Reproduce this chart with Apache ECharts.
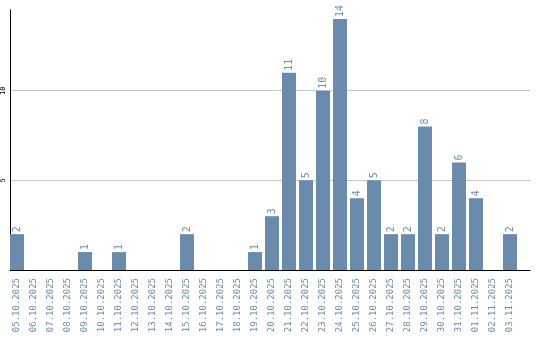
<!DOCTYPE html>
<html>
<head>
<meta charset="utf-8">
<script src="https://cdn.jsdelivr.net/npm/echarts@6/dist/echarts.min.js"></script>
<style>html,body{margin:0;padding:0;background:#fff}#c{width:540px;height:340px}</style>
</head>
<body>
<div id="c"></div>
<script>
var categories = ['05.10.2025','06.10.2025','07.10.2025','08.10.2025','09.10.2025','10.10.2025','11.10.2025','12.10.2025','13.10.2025','14.10.2025','15.10.2025','16.10.2025','17.10.2025','18.10.2025','19.10.2025','20.10.2025','21.10.2025','22.10.2025','23.10.2025','24.10.2025','25.10.2025','26.10.2025','27.10.2025','28.10.2025','29.10.2025','30.10.2025','31.10.2025','01.11.2025','02.11.2025','03.11.2025'];
var values = [2,0,0,0,1,0,1,0,0,0,2,0,0,0,1,3,11,5,10,14,4,5,2,2,8,2,6,4,0,2];
var yMax = 14.5;
var yInterval = 5;

var chart = echarts.init(document.getElementById('c'), null, {renderer:'canvas'});
var mono = 'DejaVu Sans Mono, monospace';
chart.setOption({
  animation: false,
  grid: [
    {left: 8.5, top: 10, width: 510, height: 260},
    {left: 10, top: 10, width: 520, height: 260}
  ],
  xAxis: [
    {type: 'category', gridIndex: 0, data: categories, boundaryGap: true,
     axisLine: {show: false}, axisTick: {show: false},
     axisLabel: {rotate: 90, interval: 0, margin: 8, color: '#6f8eab', fontFamily: mono, fontSize: 9}},
    {type: 'value', gridIndex: 1, min: 0, max: 1,
     axisLine: {show: true, lineStyle: {color: '#000', width: 1}},
     axisTick: {show: false}, axisLabel: {show: false}, splitLine: {show: false}}
  ],
  yAxis: [
    {type: 'value', gridIndex: 0, min: 0, max: yMax, show: false, splitLine: {show: false}},
    {type: 'value', gridIndex: 1, min: 0, max: yMax, interval: yInterval,
     axisLine: {show: true, lineStyle: {color: '#000', width: 1}},
     axisTick: {show: false},
     axisLabel: {rotate: 90, margin: 3, color: '#000', fontFamily: mono, fontSize: 7,
                 showMinLabel: false, showMaxLabel: false,
                 formatter: function(v){ return (v % yInterval === 0 && v !== 0) ? String(v) : ''; }},
     splitLine: {show: true, showMinLine: false, showMaxLine: false, lineStyle: {color: '#c8c8c8', width: 1}}}
  ],
  series: [{
    type: 'bar', xAxisIndex: 0, yAxisIndex: 0, data: values, barWidth: 14,
    itemStyle: {color: '#6a8bab'},
    label: {show: true, position: 'top', rotate: 90, align: 'left', verticalAlign: 'middle', distance: 2,
            color: '#6f8eab', fontFamily: mono, fontSize: 10,
            formatter: function(p){ return p.value ? String(p.value) : ''; }}
  }]
});
</script>
</body>
</html>
